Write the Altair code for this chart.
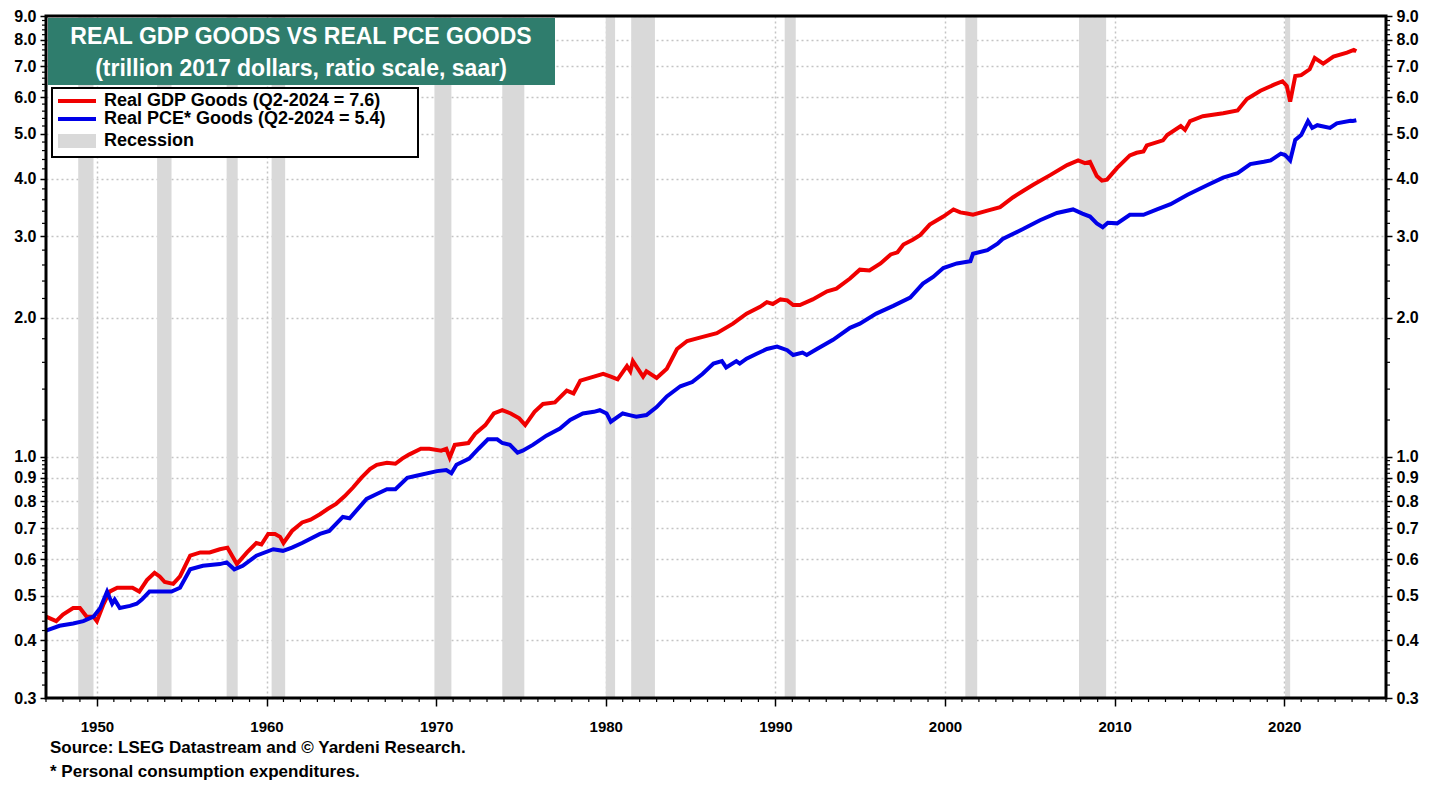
import altair as alt
import pandas as pd

# ---------------- data ----------------
gdp_years = [1947.0, 1947.6, 1948.0, 1948.6, 1949.0, 1949.4, 1949.8, 1950.0, 1950.4, 1950.75,
             1951.2, 1951.8, 1952.1, 1952.5, 1952.95, 1953.4, 1953.7, 1954.0, 1954.5, 1954.9,
             1955.5, 1956.1, 1956.65, 1957.25, 1957.7, 1958.25, 1958.85, 1959.4, 1959.7, 1960.1,
             1960.5, 1960.8, 1961.0, 1961.5, 1962.1, 1962.6, 1963.15, 1963.6, 1964.1, 1964.6,
             1965.1, 1965.6, 1966.1, 1966.5, 1967.1, 1967.6, 1968.0, 1968.4, 1969.1, 1969.6,
             1970.3, 1970.6, 1970.8, 1971.1, 1971.9, 1972.3, 1972.9, 1973.4, 1973.9, 1974.4,
             1974.9, 1975.25, 1975.8, 1976.3, 1977.0, 1977.7, 1978.1, 1978.5, 1979.3, 1979.85,
             1980.3, 1980.7, 1981.25, 1981.45, 1981.6, 1982.2, 1982.4, 1983.0, 1983.6, 1984.2,
             1984.8, 1985.55, 1986.55, 1987.5, 1988.3, 1989.1, 1989.5, 1989.85, 1990.3, 1990.7,
             1991.05, 1991.45, 1992.2, 1993.05, 1993.6, 1994.4, 1994.98, 1995.55, 1996.2, 1996.8,
             1997.2, 1997.55, 1998.1, 1998.55, 1999.1, 1999.9, 2000.5, 2000.9, 2001.3, 2001.65,
             2002.5, 2003.25, 2004.0, 2004.6, 2005.2, 2006.2, 2007.2, 2007.85, 2008.25, 2008.55,
             2008.95, 2009.25, 2009.55, 2010.15, 2010.9, 2011.3, 2011.7, 2011.9, 2012.85, 2013.1,
             2013.9, 2014.15, 2014.45, 2015.2, 2016.4, 2017.25, 2017.8, 2018.6, 2019.4, 2019.9,
             2020.15, 2020.35, 2020.65, 2021.0, 2021.5, 2021.8, 2022.3, 2022.9, 2023.7, 2024.1,
             2024.25]
gdp_vals = [0.45, 0.44, 0.455, 0.47, 0.47, 0.45, 0.45, 0.44, 0.48, 0.51,
            0.52, 0.52, 0.52, 0.51, 0.54, 0.56, 0.55, 0.535, 0.53, 0.55,
            0.61, 0.62, 0.62, 0.63, 0.635, 0.585, 0.62, 0.65, 0.645, 0.68,
            0.68, 0.67, 0.65, 0.69, 0.72, 0.73, 0.75, 0.77, 0.79, 0.82,
            0.857, 0.90, 0.94, 0.96, 0.97, 0.965, 0.99, 1.01, 1.04, 1.04,
            1.03, 1.04, 0.995, 1.06, 1.07, 1.12, 1.17, 1.24, 1.26, 1.24,
            1.21, 1.17, 1.25, 1.30, 1.31, 1.39, 1.37, 1.46, 1.49, 1.51,
            1.49, 1.47, 1.57, 1.53, 1.61, 1.49, 1.53, 1.48, 1.55, 1.71,
            1.78, 1.81, 1.85, 1.94, 2.04, 2.11, 2.16, 2.14, 2.19, 2.18,
            2.13, 2.13, 2.19, 2.28, 2.31, 2.43, 2.54, 2.53, 2.62, 2.74,
            2.77, 2.88, 2.95, 3.02, 3.18, 3.31, 3.43, 3.38, 3.36, 3.34,
            3.41, 3.47, 3.64, 3.76, 3.88, 4.07, 4.28, 4.38, 4.32, 4.35,
            4.05, 3.96, 3.98, 4.22, 4.49, 4.55, 4.58, 4.72, 4.84, 4.97,
            5.20, 5.10, 5.33, 5.46, 5.54, 5.62, 5.95, 6.20, 6.39, 6.50,
            6.35, 5.87, 6.67, 6.70, 6.90, 7.30, 7.10, 7.35, 7.50, 7.60,
            7.55]

pce_years = [1947.0, 1947.8, 1948.6, 1949.2, 1949.8, 1950.2, 1950.6, 1950.9, 1951.05, 1951.35,
             1951.95, 1952.35, 1952.65, 1953.1, 1953.9, 1954.4, 1954.9, 1955.5, 1956.25, 1957.25,
             1957.65, 1958.1, 1958.6, 1959.4, 1960.4, 1960.97, 1961.5, 1962.1, 1963.15, 1963.7,
             1964.5, 1964.9, 1965.9, 1966.5, 1967.1, 1967.6, 1968.3, 1968.9, 1970.05, 1970.6,
             1970.9, 1971.2, 1971.95, 1972.5, 1973.05, 1973.6, 1973.9, 1974.35, 1974.8, 1975.1,
             1975.7, 1976.5, 1977.3, 1977.9, 1978.65, 1979.3, 1979.65, 1980.05, 1980.3, 1981.0,
             1981.4, 1981.8, 1982.4, 1983.0, 1983.6, 1984.4, 1985.1, 1985.7, 1986.35, 1986.85,
             1987.1, 1987.7, 1987.9, 1988.3, 1988.9, 1989.5, 1990.1, 1990.7, 1991.05, 1991.6,
             1991.85, 1992.45, 1993.4, 1994.4, 1994.98, 1995.95, 1996.95, 1997.95, 1998.7, 1999.3,
             1999.9, 2000.7, 2001.5, 2001.65, 2002.5, 2003.1, 2003.4, 2004.6, 2005.6, 2006.6,
             2007.55, 2008.1, 2008.55, 2008.95, 2009.3, 2009.6, 2010.15, 2010.9, 2011.7, 2012.5,
             2013.3, 2014.3, 2015.45, 2016.4, 2017.25, 2018.0, 2018.8, 2019.2, 2019.8, 2020.05,
             2020.35, 2020.65, 2021.0, 2021.4, 2021.65, 2021.95, 2022.7, 2023.1, 2023.9, 2024.05,
             2024.25]
pce_vals = [0.42, 0.43, 0.435, 0.44, 0.45, 0.47, 0.51, 0.48, 0.49, 0.47,
            0.475, 0.48, 0.49, 0.51, 0.51, 0.51, 0.52, 0.57, 0.58, 0.585,
            0.59, 0.57, 0.58, 0.61, 0.63, 0.625, 0.635, 0.65, 0.68, 0.69,
            0.74, 0.735, 0.81, 0.83, 0.85, 0.85, 0.90, 0.91, 0.93, 0.935,
            0.92, 0.96, 0.99, 1.04, 1.09, 1.09, 1.07, 1.06, 1.02, 1.03,
            1.06, 1.11, 1.15, 1.20, 1.24, 1.25, 1.26, 1.24, 1.19, 1.24,
            1.23, 1.22, 1.23, 1.28, 1.35, 1.42, 1.45, 1.51, 1.59, 1.61,
            1.56, 1.61, 1.59, 1.63, 1.67, 1.71, 1.73, 1.70, 1.66, 1.68,
            1.66, 1.71, 1.79, 1.90, 1.94, 2.04, 2.12, 2.21, 2.37, 2.45,
            2.56, 2.62, 2.65, 2.75, 2.80, 2.89, 2.96, 3.11, 3.25, 3.37,
            3.43, 3.36, 3.31, 3.20, 3.14, 3.21, 3.20, 3.34, 3.34, 3.43,
            3.52, 3.69, 3.87, 4.02, 4.11, 4.30, 4.35, 4.38, 4.53, 4.50,
            4.38, 4.85, 4.97, 5.33, 5.15, 5.22, 5.15, 5.27, 5.34, 5.33,
            5.35]

rec_start = [1948.9, 1953.55, 1957.65, 1960.3, 1969.9, 1973.9, 1980.0, 1981.5, 1990.55, 2001.2, 2007.9, 2020.05]
rec_end = [1949.8, 1954.4, 1958.3, 1961.1, 1970.9, 1975.2, 1980.55, 1982.9, 1991.2, 2001.9, 2009.5, 2020.35]

series_names = ["Real GDP Goods (Q2-2024 = 7.6)", "Real PCE* Goods (Q2-2024 = 5.4)"]
series_colors = ["#F00000", "#0000E8"]

x_ticks = [1950, 1960, 1970, 1980, 1990, 2000, 2010, 2020]
y_ticks = [0.3, 0.4, 0.5, 0.6, 0.7, 0.8, 0.9, 1.0, 2.0, 3.0, 4.0, 5.0, 6.0, 7.0, 8.0, 9.0]
x_minor = [y for y in range(1947, 2027) if y % 10 != 0]
y_minor = [round(0.3 + 0.02 * i, 2) for i in range(1, 35) if round(0.3 + 0.02 * i, 2) not in y_ticks] + \
          [round(1.0 + 0.2 * i, 1) for i in range(1, 40) if round(1.0 + 0.2 * i, 1) not in y_ticks]

W, H = 1340, 682
FONT = "Liberation Sans"

df_lines = pd.concat([
    pd.DataFrame({"year": gdp_years, "value": gdp_vals, "series": series_names[0]}),
    pd.DataFrame({"year": pce_years, "value": pce_vals, "series": series_names[1]}),
])
df_rec = pd.DataFrame({"start": rec_start, "end": rec_end})
df_xminor = pd.DataFrame({"yr": x_minor})
df_yminor = pd.DataFrame({"v": y_minor})
one = pd.DataFrame({"k": [0]})

xscale = alt.Scale(domain=[1947, 2026], nice=False, zero=False)
yscale = alt.Scale(type="log", domain=[0.3, 9.0], nice=False)

xaxis = alt.Axis(values=x_ticks, format="d", title=None, grid=True, gridDash=[2, 3],
                 gridColor="#C4C4C4", gridWidth=1.5, domain=False, tickSize=8, tickWidth=1.5,
                 tickColor="black", labelFont=FONT, labelFontSize=15, labelFontWeight="bold",
                 labelColor="black", labelPadding=13, zindex=0)
yaxis_left = alt.Axis(values=y_ticks, format=".1f", title=None, grid=True, gridDash=[2, 3],
                      gridColor="#C4C4C4", gridWidth=1.5, domain=False, tickSize=6, tickWidth=1.5,
                      tickColor="black", labelFont=FONT, labelFontSize=16, labelFontWeight="bold",
                      labelColor="black", labelPadding=4, zindex=0)
yaxis_right = alt.Axis(orient="right", values=y_ticks, format=".1f", title=None, grid=False,
                       domain=False, tickSize=6, tickWidth=1.5, tickColor="black",
                       labelFont=FONT, labelFontSize=16, labelFontWeight="bold",
                       labelColor="black", labelPadding=4)

rec = alt.Chart(df_rec).mark_rect(color="#D9D9D9").encode(
    x=alt.X("start:Q", scale=xscale, axis=xaxis),
    x2="end:Q",
    y=alt.value(0), y2=alt.value(H),
)

lines = alt.Chart(df_lines).mark_line(strokeWidth=4).encode(
    x=alt.X("year:Q", scale=xscale, axis=xaxis),
    y=alt.Y("value:Q", scale=yscale, axis=yaxis_left),
    color=alt.Color("series:N", scale=alt.Scale(domain=series_names, range=series_colors), legend=None),
    detail="series:N",
)

xminor = alt.Chart(df_xminor).mark_rule(color="black", strokeWidth=1.2).encode(
    x=alt.X("yr:Q", scale=xscale, axis=xaxis),
    y=alt.value(H), y2=alt.value(H + 4),
)

yminor_left = alt.Chart(df_yminor).mark_rule(color="black", strokeWidth=1.2).encode(
    y=alt.Y("v:Q", scale=yscale, axis=yaxis_left),
    x=alt.value(-4), x2=alt.value(0),
)

frame = alt.Chart(one).mark_rect(fillOpacity=0, stroke="black", strokeWidth=3).encode(
    x=alt.value(0), x2=alt.value(W), y=alt.value(0), y2=alt.value(H)
)

title_box = alt.Chart(one).mark_rect(color="#2F7D6D").encode(
    x=alt.value(2), x2=alt.value(509), y=alt.value(2), y2=alt.value(69)
)
title1 = alt.Chart(one).mark_text(font=FONT, fontSize=23, fontWeight="bold", color="white",
                                  align="center", baseline="middle").encode(
    x=alt.value(255), y=alt.value(21), text=alt.value("REAL GDP GOODS VS REAL PCE GOODS"))
title2 = alt.Chart(one).mark_text(font=FONT, fontSize=23, fontWeight="bold", color="white",
                                  align="center", baseline="middle").encode(
    x=alt.value(255), y=alt.value(53), text=alt.value("(trillion 2017 dollars, ratio scale, saar)"))

leg_box = alt.Chart(one).mark_rect(fill="white", stroke="black", strokeWidth=2).encode(
    x=alt.value(6), x2=alt.value(372), y=alt.value(72), y2=alt.value(141)
)
leg_red = alt.Chart(one).mark_rule(color=series_colors[0], strokeWidth=4).encode(
    x=alt.value(12), x2=alt.value(50), y=alt.value(85))
leg_blue = alt.Chart(one).mark_rule(color=series_colors[1], strokeWidth=4).encode(
    x=alt.value(12), x2=alt.value(50), y=alt.value(103))
leg_rec = alt.Chart(one).mark_rect(color="#D9D9D9").encode(
    x=alt.value(12), x2=alt.value(50), y=alt.value(118), y2=alt.value(132))


def ltext(txt, y):
    return alt.Chart(one).mark_text(font=FONT, fontSize=18, fontWeight="bold", color="black",
                                    align="left", baseline="middle").encode(
        x=alt.value(58), y=alt.value(y), text=alt.value(txt))


leg_t1 = ltext(series_names[0], 85)
leg_t2 = ltext(series_names[1], 103)
leg_t3 = ltext("Recession", 125)


def stext(txt, y):
    return alt.Chart(one).mark_text(font=FONT, fontSize=17, fontWeight="bold", color="black",
                                    align="left", baseline="middle").encode(
        x=alt.value(4), y=alt.value(y), text=alt.value(txt))


src1 = stext("Source: LSEG Datastream and © Yardeni Research.", 732)
src2 = stext("* Personal consumption expenditures.", 756)

left = alt.layer(rec, xminor, yminor_left, lines, frame, title_box, title1, title2,
                 leg_box, leg_red, leg_blue, leg_rec, leg_t1, leg_t2, leg_t3, src1, src2)

right = alt.Chart(df_yminor).mark_rule(color="black", strokeWidth=1.2).encode(
    y=alt.Y("v:Q", scale=yscale, axis=yaxis_right),
    x=alt.value(W), x2=alt.value(W + 4),
)

chart = alt.layer(left, right).resolve_scale(y="independent").properties(
    width=W, height=H,
    padding={"left": 38, "top": 8, "right": 48, "bottom": 86},
    autosize=alt.AutoSizeParams(type="none"),
    background="white",
).configure_view(strokeWidth=0)

chart.save("out.html", embed_options={"renderer": "svg", "actions": False})
